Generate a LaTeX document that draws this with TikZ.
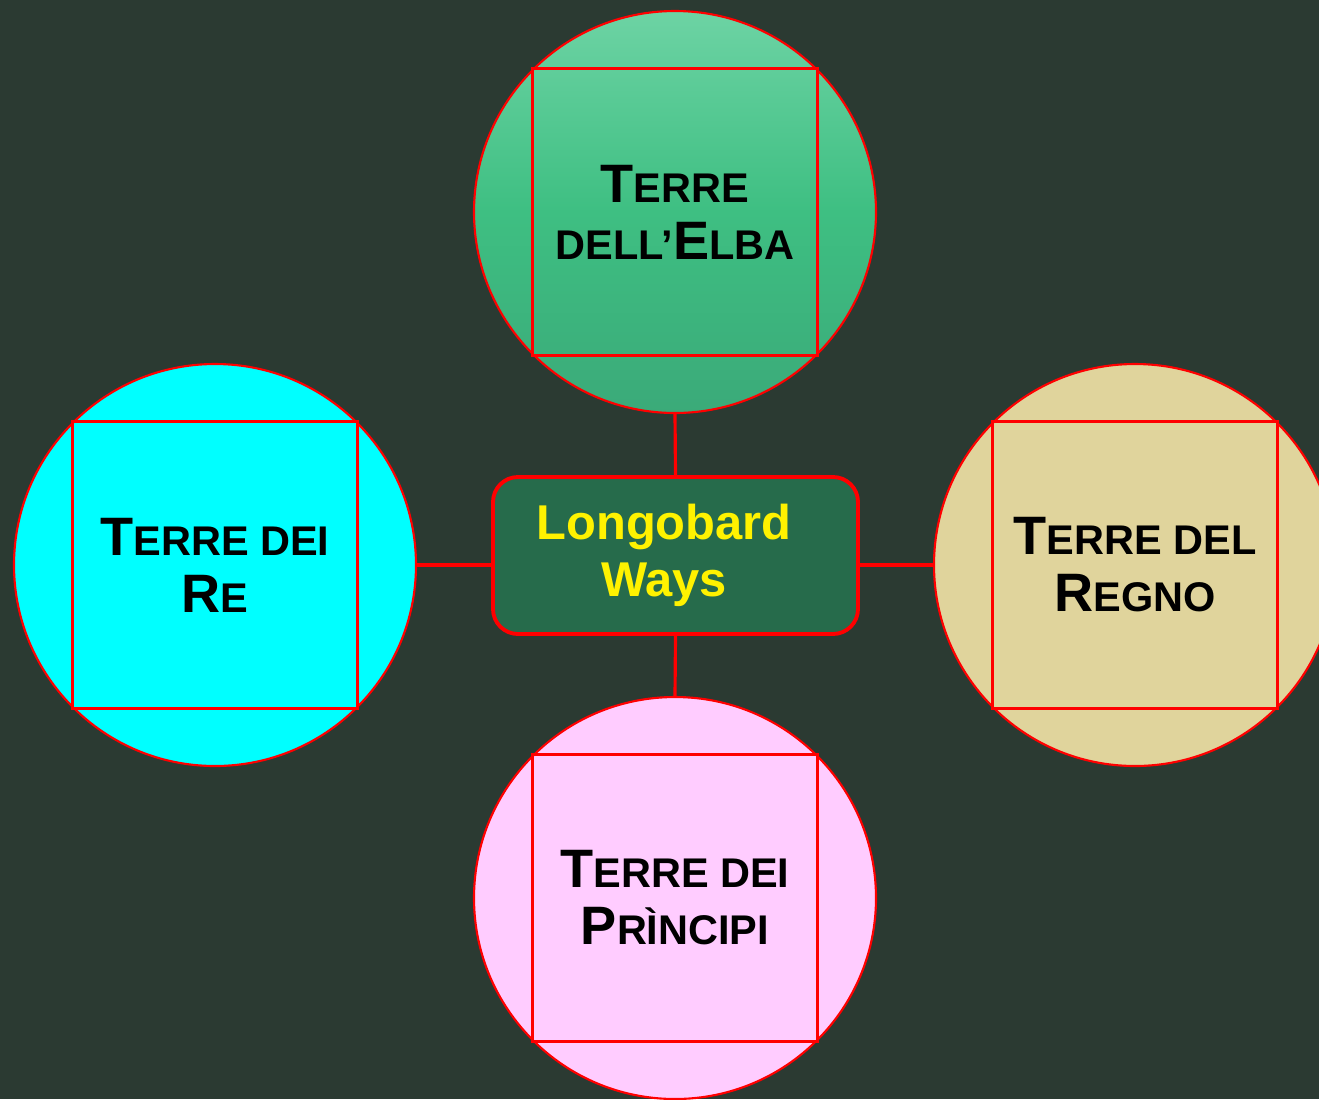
\documentclass[tikz,border=0pt]{standalone}
\usepackage{fontspec}
\setmainfont{Liberation Sans}
\usetikzlibrary{positioning}

\definecolor{board}{HTML}{2B3A32}
\definecolor{hubgreen}{HTML}{266B4B}
\definecolor{elbatop}{HTML}{6DD3A4}
\definecolor{elbamid}{HTML}{3EBF82}
\definecolor{elbabot}{HTML}{3BAA79}
\definecolor{reaqua}{HTML}{00FFFF}
\definecolor{regno}{HTML}{E0D49C}
\definecolor{principi}{HTML}{FFCCFF}
\definecolor{linkred}{HTML}{FF0000}

% fake small caps: big initial, smaller rest
\newcommand\initcap[1]{{\fontsize{15.4}{16.2}\selectfont #1}}
\newcommand\restcap[1]{{\fontsize{11.8}{16.2}\selectfont #1}}

\begin{document}
\begin{tikzpicture}[thick,
land node/.style={circle,draw=linkred,line width=0.6pt,minimum size=4.02cm,inner sep=0pt},
frame node/.style={rectangle,draw=linkred,line width=0.64pt,minimum width=2.85cm,minimum height=2.87cm,
  align=center,font=\bfseries\fontsize{15.4}{16.2}\selectfont,text=black},
hub node/.style={rectangle,rounded corners=0.25cm,draw=linkred,line width=1.1pt,fill=hubgreen,
  minimum width=3.65cm,minimum height=1.57cm},
link/.style={draw=linkred,line width=0.9pt}]
\fill[board] (0,0) rectangle (13.19,-10.99);
\useasboundingbox (0,0) rectangle (13.19,-10.99);
\clip (0,0) rectangle (13.19,-10.99);

\node[land node,top color=elbatop,bottom color=elbabot,middle color=elbamid] (elba) at (6.75,-2.12) {};
\node[land node,fill=reaqua] (re) at (2.15,-5.65) {};
\node[land node,fill=regno] (regno) at (11.35,-5.65) {};
\node[land node,fill=principi] (principi) at (6.75,-8.98) {};

\node[frame node] (elbabox) at (elba) {\initcap{T}\restcap{ERRE}\\\restcap{DELL'}\initcap{E}\restcap{LBA}};
\node[frame node] (rebox) at (re) {\initcap{T}\restcap{ERRE DEI}\\\initcap{R}\restcap{E}};
\node[frame node] (regnobox) at (regno) {\initcap{T}\restcap{ERRE DEL}\\\initcap{R}\restcap{EGNO}};
\node[frame node] (principibox) at (principi) {\initcap{T}\restcap{ERRE DEI}\\\initcap{P}\restcap{RÌNCIPI}};

\node[hub node] (hub) at (6.755,-5.555) {};
\node[text=yellow,align=center,font=\bfseries\fontsize{13.9}{16.2}\selectfont] (hubtext) at (6.64,-5.55) {Longobard\\Ways};

\draw[link] (elba.south) -- (hub.north);
\draw[link] (hub.south) -- (principi.north);
\draw[link] (re.east) -- (re.east -| hub.west);
\draw[link] (regno.west) -- (regno.west -| hub.east);
\end{tikzpicture}
\end{document}
